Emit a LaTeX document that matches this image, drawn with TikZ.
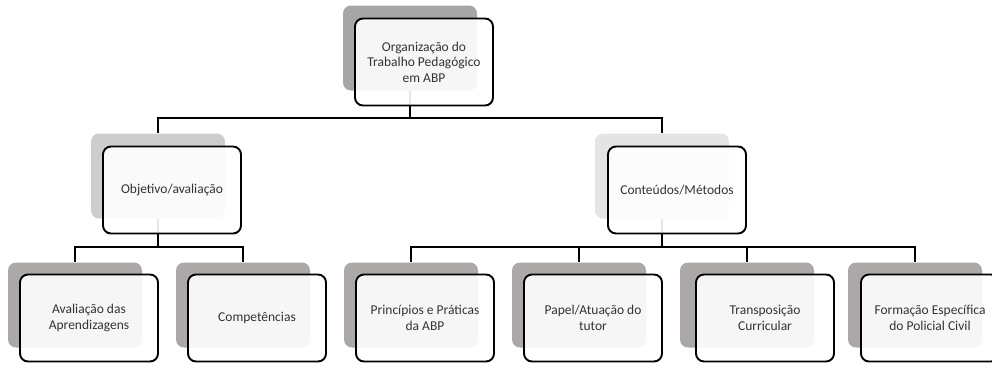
\documentclass[tikz,border=0pt]{standalone}
\usepackage{fontspec}
\setmainfont{Carlito}
\usepackage{xcolor}
\definecolor{shadetop}{HTML}{A6A6A6}
\definecolor{shadeleft}{HTML}{CDCDCD}
\definecolor{shaderight}{HTML}{E4E4E4}
\definecolor{shadeleaf}{HTML}{ACA8A8}
\definecolor{inktext}{HTML}{333333}
\usepackage{tikz}
\usetikzlibrary{positioning}

\begin{document}
\begin{tikzpicture}[
  x=1pt, y=-1pt,
  font=\fontsize{13.5}{15.5}\selectfont,
  shadow/.style={rounded corners=8pt, inner sep=0pt, minimum width=134pt, minimum height=85pt},
  topic/.style={draw=black, line width=1.9pt, rounded corners=8pt, fill=white, fill opacity=0.9, text opacity=1, text=inktext, align=center, inner sep=0pt, minimum width=138pt, minimum height=87pt},
  conn/.style={line width=1.9pt, color=black},
]
  \clip (0,0) rectangle (992,365);
  % shadows
  \node[shadow, fill=shadetop]   (orgS)  at (410,48)  {};
  \node[shadow, fill=shadeleft]  (objS)  at (158,176) {};
  \node[shadow, fill=shaderight] (contS) at (662,176) {};
  \node[shadow, fill=shadeleaf]  (avalS) at (75,305)  {};
  \node[shadow, fill=shadeleaf]  (compS) at (243,305) {};
  \node[shadow, fill=shadeleaf]  (princS) at (411,305) {};
  \node[shadow, fill=shadeleaf]  (papS)  at (579,305) {};
  \node[shadow, fill=shadeleaf]  (trS)   at (747,305) {};
  \node[shadow, fill=shadeleaf]  (formS) at (915,305) {};
  % connectors
  \coordinate (busA) at (0,118);
  \coordinate (busB) at (0,247);
  \draw[conn] (orgS.south) -- (orgS.south |- busA) -| (objS.north);
  \draw[conn] (orgS.south |- busA) -| (contS.north);
  \draw[conn] (objS.south) -- (objS.south |- busB) -| (avalS.north);
  \draw[conn] (objS.south |- busB) -| (compS.north);
  \draw[conn] (contS.south) -- (contS.south |- busB) -| (princS.north);
  \draw[conn] (contS.south |- busB) -| (papS.north);
  \draw[conn] (contS.south |- busB) -| (trS.north);
  \draw[conn] (contS.south |- busB) -| (formS.north);
  % boxes
  \node[topic] (org)   at (424,62)  {Organização do\\Trabalho Pedagógico\\em ABP};
  \node[topic] (obj)   at (172,190) {Objetivo/avaliação};
  \node[topic] (cont)  at (677,190) {Conteúdos/Métodos};
  \node[topic] (aval)  at (89,318)  {Avaliação das\\Aprendizagens};
  \node[topic] (comp)  at (257,318) {Competências};
  \node[topic] (princ) at (425,318) {Princípios e Práticas\\da ABP};
  \node[topic] (pap)   at (593,318) {Papel/Atuação do\\tutor};
  \node[topic] (tr)    at (765,318) {Transposição\\Curricular};
  \node[topic] (form)  at (930,318) {Formação Específica\\do Policial Civil};
\end{tikzpicture}
\end{document}
